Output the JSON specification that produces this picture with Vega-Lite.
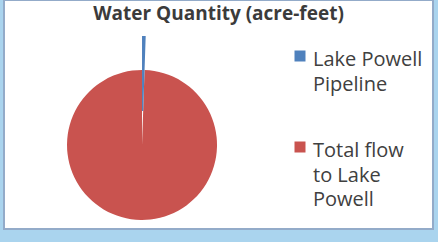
{
  "$schema": "https://vega.github.io/schema/vega-lite/v6.json",
  "width": 438,
  "height": 242,
  "autosize": {"type": "fit", "contains": "padding"},
  "padding": {"left": 4, "top": 0, "right": 5, "bottom": 13},
  "background": "#aad4ee",
  "config": {
    "view": {"fill": "white", "stroke": "#93abc9", "strokeWidth": 2},
    "style": {"guide-label": {"lineHeight": 24.5, "dy": 10}}
  },
  "title": {
    "text": "Water Quantity (acre-feet)",
    "font": "Open Sans",
    "fontSize": 19,
    "fontWeight": "bold",
    "color": "#3b3b3b",
    "anchor": "middle",
    "offset": -23,
    "dy": 1
  },
  "data": {
    "values": [
      {"category": "Lake Powell Pipeline", "acre_feet": 86249},
      {"category": "Total flow to Lake Powell", "acre_feet": 16000000}
    ]
  },
  "transform": [
    {"stack": "acre_feet", "groupby": [], "sort": [{"field": "category", "order": "ascending"}], "as": ["start", "end"]}
  ],
  "encoding": {
    "theta": {"field": "start", "type": "quantitative", "scale": {"domain": [0, 16086249]}},
    "theta2": {"field": "end"},
    "color": {
      "field": "category",
      "type": "nominal",
      "scale": {"domain": ["Lake Powell Pipeline", "Total flow to Lake Powell"], "range": ["#4f81bd", "#c9534f"]},
      "legend": {
        "orient": "none",
        "legendX": 286,
        "legendY": 46,
        "title": null,
        "padding": 0,
        "symbolType": "square",
        "symbolSize": 121,
        "symbolStrokeWidth": 0,
        "labelFont": "Open Sans",
        "labelFontSize": 20,
        "labelColor": "#404040",
        "labelBaseline": "alphabetic",
        "labelOffset": 3,
        "labelLimit": 300,
        "rowPadding": 42,
        "labelExpr": "datum.value == 'Lake Powell Pipeline' ? ['Lake Powell', 'Pipeline'] : ['Total flow', 'to Lake', 'Powell']"
      }
    },
    "x": {"datum": 1, "type": "quantitative", "scale": {"domain": [0, 3.108]}, "axis": null},
    "y": {"datum": 1, "type": "quantitative", "scale": {"domain": [0, 2.725]}, "axis": null}
  },
  "resolve": {"scale": {"theta": "shared"}},
  "layer": [
    {
      "transform": [{"filter": "datum.category == 'Total flow to Lake Powell'"}],
      "mark": {"type": "arc", "radius": 75}
    },
    {
      "transform": [{"filter": "datum.category == 'Lake Powell Pipeline'"}],
      "mark": {"type": "arc", "radius": 109, "radius2": 34}
    }
  ]
}
